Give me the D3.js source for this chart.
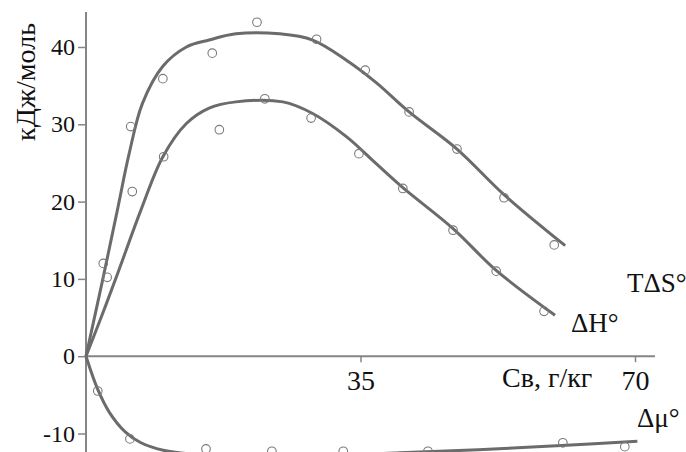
<!DOCTYPE html>
<html>
<head>
<meta charset="utf-8">
<script src="https://cdn.jsdelivr.net/npm/d3@7"></script>
<style>
  body { margin: 0; background: #fff; }
  text { font-family: "Liberation Serif", "Times New Roman", serif; fill: #111; }
</style>
</head>
<body>
<script>
// measured points
var tdsX = [2.2, 5.7, 9.8, 16.1, 21.8, 29.4, 35.6, 41.2, 47.3, 53.3, 59.7];
var tdsY = [12.0, 29.7, 35.9, 39.2, 43.2, 41.0, 37.0, 31.6, 26.8, 20.5, 14.4];
var dhX = [2.7, 5.9, 9.9, 17.0, 22.8, 28.7, 34.8, 40.4, 46.8, 52.3, 58.4];
var dhY = [10.2, 21.3, 25.8, 29.3, 33.3, 30.8, 26.2, 21.7, 16.3, 11.0, 5.8];
var dmuX = [1.5, 5.6, 15.3, 23.7, 32.8, 43.6, 60.8, 68.7];
var dmuY = [-4.5, -10.7, -12.0, -12.3, -12.3, -12.3, -11.2, -11.7];

// fitted curves
var tdsFitX = [0, 2, 4, 5.5, 7.2, 9.8, 12.8, 15.7, 19.1, 24.7, 28.9, 33.2, 37, 41.2, 47.3, 53.3, 61.1];
var tdsFitY = [0, 9.3, 18.9, 26.2, 32.7, 37.5, 40.0, 40.9, 41.7, 41.7, 40.9, 38.3, 35.4, 31.6, 26.8, 20.9, 14.3];
var dhFitX = [0, 2, 4, 7, 9.8, 12.8, 15.7, 19.1, 25.1, 28.9, 33.2, 37, 40.4, 46.8, 52.3, 59.8];
var dhFitY = [0, 5.2, 10.6, 18.9, 25.8, 30.1, 32.1, 32.9, 32.9, 31.4, 28.4, 24.9, 21.8, 16.5, 11.1, 5.3];
var dmuFitX = [0, 1.5, 3, 5, 7, 10, 14, 20, 30, 40, 50, 60, 70.3];
var dmuFitY = [0, -4.3, -7.3, -9.8, -11.2, -12.2, -12.7, -12.9, -12.9, -12.5, -12.1, -11.6, -11.0];

var yTicks = [-10, 0, 10, 20, 30, 40];
var xTicks = [35, 70];

var W = 686, H = 452;
var svg = d3.select('body').append('svg').attr('width', W).attr('height', H);

var x = d3.scaleLinear().domain([0, 70]).range([86, 635]);
var y = d3.scaleLinear().domain([-10, 40]).range([433.5, 47]);

var axisCol = '#858585', lineCol = '#6b6b6b';

// y axis
svg.append('line')
   .attr('x1', x(0)).attr('x2', x(0)).attr('y1', 12).attr('y2', H)
   .attr('stroke', axisCol).attr('stroke-width', 2);

var ya = svg.append('g').attr('transform', 'translate(' + x(0) + ',0)')
   .call(d3.axisLeft(y).tickValues(yTicks).tickSize(8).tickPadding(3).tickFormat(d => String(d)));
ya.select('.domain').remove();
ya.selectAll('line').attr('stroke', axisCol).attr('stroke-width', 1.5);
ya.selectAll('text').attr('font-size', 24).attr('fill', '#111');

// x axis
svg.append('line')
   .attr('x1', x(0)).attr('x2', 655).attr('y1', y(0)).attr('y2', y(0))
   .attr('stroke', axisCol).attr('stroke-width', 2);

var xa = svg.append('g').attr('transform', 'translate(0,' + y(0) + ')')
   .call(d3.axisBottom(x).tickValues(xTicks).tickSize(6).tickPadding(8));
xa.select('.domain').remove();
xa.selectAll('line').attr('stroke', axisCol).attr('stroke-width', 1.5);
xa.selectAll('text').attr('font-size', 28).attr('fill', '#111');

// curves
var line = d3.line().x(d => x(d[0])).y(d => y(d[1])).curve(d3.curveCatmullRom.alpha(0.5));
var fits = [[tdsFitX, tdsFitY], [dhFitX, dhFitY], [dmuFitX, dmuFitY]];
svg.selectAll('path.fit')
   .data(fits).enter().append('path')
   .attr('class', 'fit')
   .attr('d', s => line(s[0].map((v, i) => [v, s[1][i]])))
   .attr('fill', 'none')
   .attr('stroke', lineCol)
   .attr('stroke-width', 3);

// points
var pts = [];
tdsX.forEach((v, i) => pts.push([v, tdsY[i]]));
dhX.forEach((v, i) => pts.push([v, dhY[i]]));
dmuX.forEach((v, i) => pts.push([v, dmuY[i]]));
svg.selectAll('circle')
   .data(pts).enter().append('circle')
   .attr('cx', d => x(d[0]))
   .attr('cy', d => y(d[1]))
   .attr('r', 4.3)
   .attr('fill', 'none')
   .attr('stroke', '#7a7a7a')
   .attr('stroke-width', 1.1);

// labels
svg.append('text').attr('x', 627).attr('y', 292).attr('font-size', 27).text('TΔS°');
svg.append('text').attr('x', 571).attr('y', 332).attr('font-size', 27).text('ΔH°');
svg.append('text').attr('x', 637).attr('y', 427).attr('font-size', 27).text('Δμ°');
svg.append('text').attr('x', 502).attr('y', 387).attr('font-size', 28).text('Св, г/кг');

svg.append('text')
   .attr('transform', 'translate(35,82) rotate(-90)')
   .attr('text-anchor', 'middle')
   .attr('font-size', 28)
   .text('кДж/моль');
</script>
</body>
</html>
